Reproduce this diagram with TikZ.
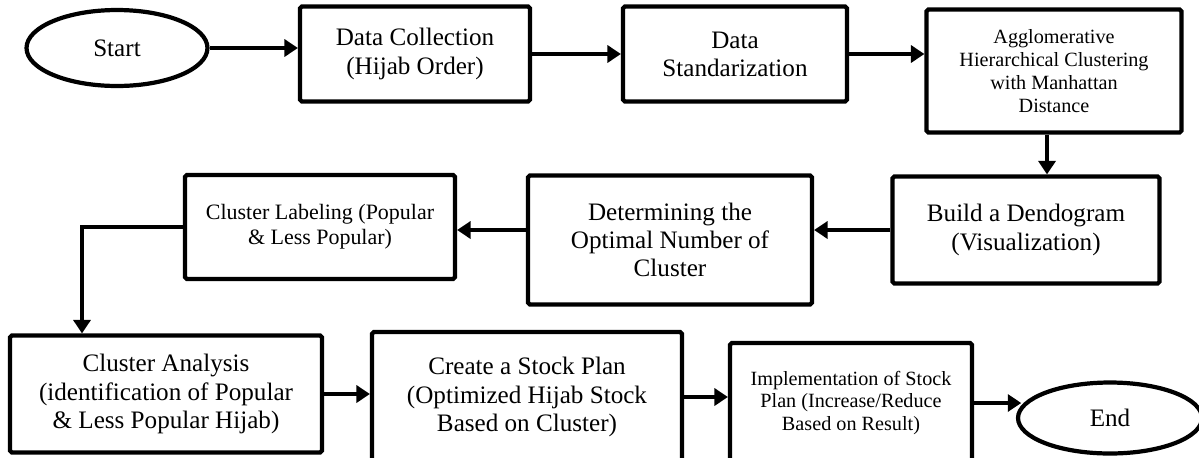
\documentclass[tikz,border=0pt]{standalone}
\usepackage{fontspec}
\setmainfont{Liberation Serif}
\usepackage{tikz}
\usetikzlibrary{shapes.geometric,arrows.meta}
\tikzset{%
    stepbox/.style={%
        draw, line width=2.4pt, rounded corners=1pt, align=center,
        inner sep=2pt, font=\fontsize{14.3}{16}\selectfont
    },
    smalltext/.style={font=\fontsize{11.5}{13}\selectfont},
    terminal/.style={%
        draw, ellipse, line width=2.4pt, inner sep=0pt,
        font=\fontsize{14.3}{16}\selectfont
    },
    flow/.style={%
        line width=2.6pt, -{Triangle[length=0.27cm,width=0.34cm]}
    }
}

\begin{document}
\begin{tikzpicture}[x=0.02cm,y=-0.02cm]
    \useasboundingbox (0,0) rectangle (1199,457);
    \clip (0,0) rectangle (1199,457);
%-----------------------------------------------
    % first row
    \node[terminal, minimum width=3.62cm, minimum height=1.52cm] (start) at (117,48) {Start};
    \node[stepbox, minimum width=4.6cm, minimum height=1.9cm] (collect) at (415,54) {Data Collection\\(Hijab Order)};
    \node[stepbox, minimum width=4.48cm, minimum height=1.9cm] (standard) at (735,54) {Data\\Standarization};
    \node[stepbox, smalltext, minimum width=5.1cm, minimum height=2.46cm] (ahc) at (1054,71) {Agglomerative\\Hierarchical Clustering\\with Manhattan\\Distance};
%-----------------------------------------------
    % second row
    \node[stepbox, minimum width=5.34cm, minimum height=2.14cm] (dendo) at (1026,230) {Build a Dendogram\\(Visualization)};
    \node[stepbox, minimum width=5.68cm, minimum height=2.58cm] (optimal) at (670,240) {Determining the\\Optimal Number of\\Cluster};
    \node[stepbox, font=\fontsize{12.5}{14}\selectfont, minimum width=5.4cm, minimum height=2.08cm] (label) at (320,227) {Cluster Labeling (Popular\\\& Less Popular)};
%-----------------------------------------------
    % third row
    \node[stepbox, minimum width=6.24cm, minimum height=2.34cm] (analysis) at (166,394) {Cluster Analysis\\(identification of Popular\\\& Less Popular Hijab)};
    \node[stepbox, minimum width=6.2cm, minimum height=2.6cm] (plan) at (527,397) {Create a Stock Plan\\(Optimized Hijab Stock\\Based on Cluster)};
    \node[stepbox, smalltext, minimum width=4.84cm, minimum height=2.4cm] (implement) at (851,403) {Implementation of Stock\\Plan (Increase/Reduce\\Based on Result)};
    \node[terminal, minimum width=3.68cm, minimum height=1.42cm] (end) at (1110,418) {End};
%-----------------------------------------------
    \coordinate (turn) at (82,227);
    \draw[flow] (start.east) -- (start.east -| collect.west);
    \draw[flow] (collect.east) -- (standard.west);
    \draw[flow] (standard.east) -- (standard.east -| ahc.west);
    \draw[flow] (ahc.south -| 1047,0) -- (dendo.north -| 1047,0);
    \draw[flow] (dendo.west) -- (dendo.west -| optimal.east);
    \draw[flow] (optimal.west |- dendo.west) -- (dendo.west -| label.east);
    \draw[flow] (label.west) -- (turn) -- (turn |- analysis.north);
    \draw[flow] (analysis.east) -- (analysis.east -| plan.west);
    \draw[flow] (plan.east) -- (plan.east -| implement.west);
    \draw[flow] (implement.east) -- (implement.east -| end.172);
\end{tikzpicture}
\end{document}
